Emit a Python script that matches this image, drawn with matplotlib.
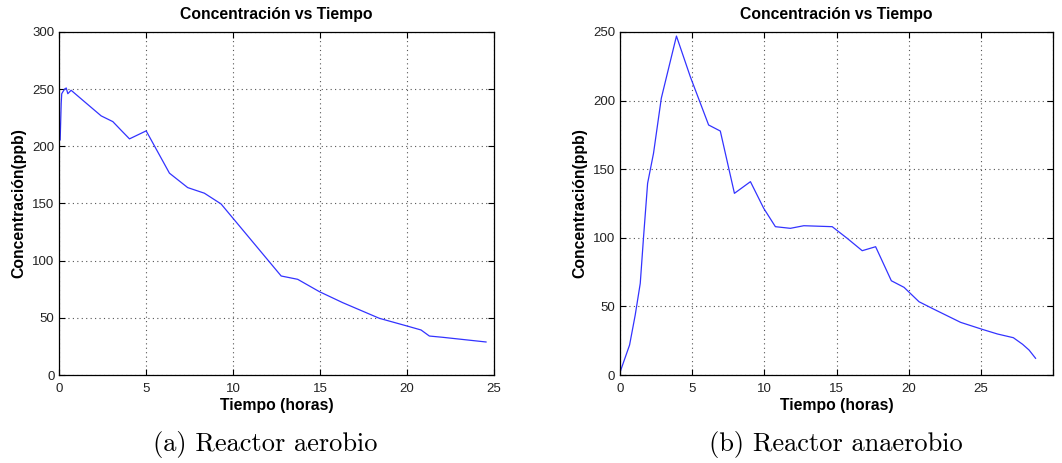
import matplotlib
matplotlib.use('Agg')
import matplotlib.pyplot as plt

# aerobic reactor
t_aer = [0.0, 0.04, 0.1, 0.13, 0.29, 0.39, 0.48, 0.67, 1.44, 2.4, 3.07, 3.55, 4.03, 4.99,
         6.33, 7.38, 8.34, 9.3, 12.76, 13.71, 14.96, 16.3, 18.41, 19.95, 20.81, 21.29,
         22.05, 24.55]
c_aer = [205, 205.6, 237.7, 246, 250, 251, 246, 249, 239, 226.6, 221.6, 214, 206.5, 213.5,
         176.5, 163.9, 159, 149.6, 86.6, 83.7, 72.9, 63.3, 49.6, 43.1, 39.4, 34.1,
         33, 28.9]

# anaerobic reactor
t_ana = [0.0, 0.65, 1.04, 1.39, 1.62, 1.9, 2.31, 2.85, 3.13, 3.9, 4.86, 6.13, 6.94, 7.92,
         9.03, 9.95, 10.76, 11.8, 12.73, 14.7, 15.74, 16.78, 17.71, 18.8, 19.68, 20.72,
         21.76, 23.6, 25.1, 26.16, 27.26, 27.9, 28.35, 28.8]
c_ana = [2.4, 21.9, 43.7, 66.8, 100.8, 139.7, 161.6, 201.7, 213.8, 247, 217.4, 182.2, 177.8,
         132.4, 140.9, 121.5, 108.1, 106.9, 108.8, 108.1, 99.6, 90.6, 93.5, 68.7, 63.9, 53.4,
         47.9, 38.4, 33.3, 29.9, 27.2, 22.4, 18.2, 12.2]

titulo = 'Concentración vs Tiempo'
xlab = 'Tiempo (horas)'
ylab = 'Concentración(ppb)'
captions = ['(a) Reactor aerobio', '(b) Reactor anaerobio']

plt.rcParams['font.family'] = ['Liberation Sans', 'DejaVu Sans']

fig = plt.figure(figsize=(10.62, 4.63), dpi=100)
ax1 = fig.add_axes([0.056, 0.190, 0.409, 0.741])
ax2 = fig.add_axes([0.584, 0.190, 0.4074, 0.741])

def style(ax, xlim, ylim, xt, yt):
    ax.set_xlim(xlim)
    ax.set_ylim(ylim)
    ax.set_xticks(xt)
    ax.set_yticks(yt)
    ax.tick_params(direction='in', top=True, right=True, labelsize=9.5,
                   labelcolor='#222222', length=4, width=0.8)
    ax.tick_params(axis='x', pad=6)
    ax.grid(True, linestyle=(0, (1, 3)), color='#555555', linewidth=0.8)
    for s in ax.spines.values():
        s.set_linewidth(0.9)
    ax.set_title(titulo, fontsize=11.3, fontweight='bold', pad=9)
    ax.set_xlabel(xlab, fontsize=11.3, fontweight='bold', labelpad=2)
    ax.set_ylabel(ylab, fontsize=11.3, fontweight='bold', labelpad=4)

ax1.plot(t_aer, c_aer, color='#3333ff', lw=0.9)
style(ax1, (0, 25), (0, 300), range(0, 26, 5), range(0, 301, 50))

ax2.plot(t_ana, c_ana, color='#3333ff', lw=0.9)
style(ax2, (0, 30), (0, 250), range(0, 31, 5), range(0, 251, 50))
ax2.set_xticklabels(['0', '5', '10', '15', '20', '25', ''])

fig.text(0.250, 0.04, captions[0], ha='center', va='center', fontsize=19, family='cmr10')
fig.text(0.787, 0.04, captions[1], ha='center', va='center', fontsize=19, family='cmr10')

fig.savefig('out.png', dpi=100)
